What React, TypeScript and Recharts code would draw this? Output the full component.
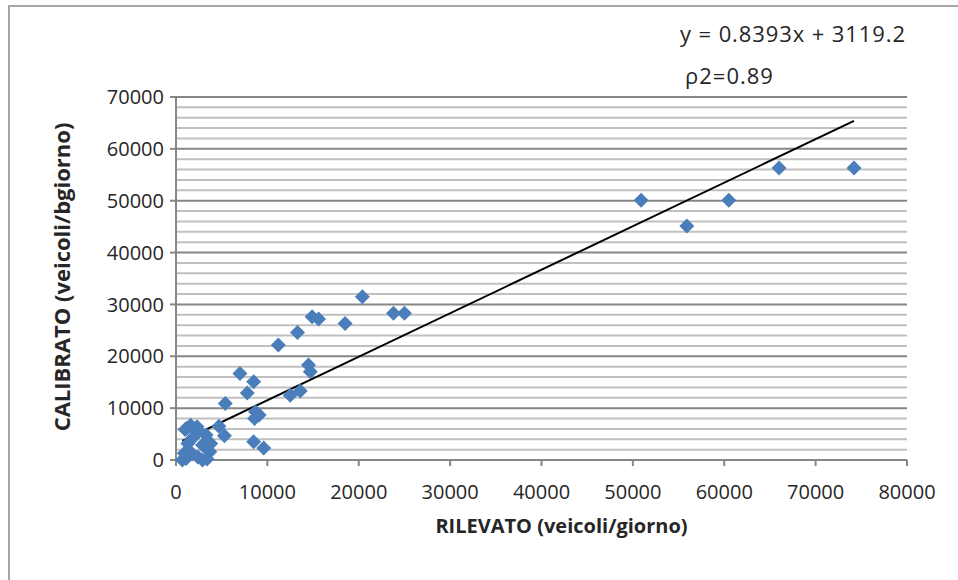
import React from "react";
import {
  ScatterChart,
  Scatter,
  XAxis,
  YAxis,
  CartesianGrid,
  ReferenceLine,
} from "recharts";

// RILEVATO (x) vs CALIBRATO (y), veicoli/giorno
const rilevato = [
  700, 1100, 900, 1500, 1300, 1800, 1000, 1600, 2300, 2500, 3300, 3800, 2900,
  3700, 2400, 2900, 3400, 1200,
  4700, 5300, 5400, 7000, 8500, 7800, 8700, 9100, 8600, 8500, 9600,
  12500, 13600, 14500, 14700, 11200, 13300, 14900, 15600, 18500, 20400, 23800,
  25000, 50900, 55900, 60500, 66000, 74200,
];
const calibrato = [
  0, 300, 1300, 1700, 3200, 4200, 5900, 6700, 6400, 5500, 4800, 3200, 2900,
  1600, 600, 0, 200, 6100,
  6500, 4700, 10900, 16700, 15100, 12900, 9300, 8700, 8000, 3500, 2300,
  12500, 13300, 18300, 17000, 22200, 24600, 27600, 27200, 26300, 31500, 28300,
  28300, 50100, 45100, 50100, 56300, 56300,
];

const xTicks = [0, 10000, 20000, 30000, 40000, 50000, 60000, 70000, 80000];
const yTicks = [0, 10000, 20000, 30000, 40000, 50000, 60000, 70000];
const yMinorTicks = yTicks
  .slice(0, -1)
  .flatMap((t) => [t + 2000, t + 4000, t + 6000, t + 8000]);

// linear fit shown on the chart
const slope = 0.8393;
const intercept = 3119.2;

const points = rilevato.map((x, i) => ({ x, y: calibrato[i] }));
const xMin = Math.min(...rilevato);
const xMax = Math.max(...rilevato);

const FONT = "'Open Sans', sans-serif";
const TEXT = "#262626";

function Diamond(props: any) {
  const { cx, cy } = props;
  if (cx == null || cy == null) return null;
  const r = 7.5;
  return (
    <polygon
      points={`${cx},${cy - r} ${cx + r},${cy} ${cx},${cy + r} ${cx - r},${cy}`}
      fill="#4a7ebb"
    />
  );
}

export default function App() {
  return (
    <div
      style={{
        position: "absolute",
        left: 0,
        top: 0,
        width: 958,
        height: 580,
        background: "#fff",
        overflow: "hidden",
        fontFamily: FONT,
      }}
    >
      <div style={{ position: "absolute", left: 8, top: 5, width: 2, height: 580, background: "#a6a6a6" }} />
      <div style={{ position: "absolute", left: 8, top: 5, width: 950, height: 2, background: "#a6a6a6" }} />
      <ScatterChart
        width={958}
        height={580}
        margin={{ top: 97, right: 51, bottom: 60, left: 116 }}
      >
        <CartesianGrid vertical={false} stroke="#868686" strokeWidth={2} />
        {yMinorTicks.map((v) => (
          <ReferenceLine key={v} y={v} stroke="#c0c0c0" strokeWidth={2} />
        ))}
        <XAxis
          type="number"
          dataKey="x"
          domain={[0, 80000]}
          ticks={xTicks}
          interval={0}
          height={60}
          stroke="#868686"
          strokeWidth={2}
          tickSize={6}
          tickMargin={19}
          tick={{ fill: TEXT, fontSize: 20, fontFamily: FONT }}
          label={{
            value: "RILEVATO (veicoli/giorno)",
            position: "insideBottom",
            offset: -13,
            dx: 20,
            fill: TEXT,
            fontSize: 20,
            fontWeight: "bold",
            fontFamily: FONT,
          }}
        />
        <YAxis
          type="number"
          dataKey="y"
          domain={[0, 70000]}
          ticks={yTicks}
          interval={0}
          width={60}
          stroke="#868686"
          strokeWidth={2}
          tickSize={6}
          tickMargin={6}
          tick={{ fill: TEXT, fontSize: 20, fontFamily: FONT }}
        />
        <ReferenceLine
          segment={[
            { x: xMin, y: slope * xMin + intercept },
            { x: xMax, y: slope * xMax + intercept },
          ]}
          stroke="#000"
          strokeWidth={2}
          ifOverflow="visible"
        />
        <Scatter data={points} shape={Diamond} isAnimationActive={false} />
      </ScatterChart>
      <div
        style={{
          position: "absolute",
          top: 277,
          left: 61,
          transform: "translate(-50%, -50%) rotate(-90deg)",
          whiteSpace: "nowrap",
          fontSize: 22,
          fontWeight: "bold",
          color: TEXT,
        }}
      >
        CALIBRATO (veicoli/bgiorno)
      </div>
      <div style={{ position: "absolute", left: 680, top: 18, fontSize: 22, color: TEXT, whiteSpace: "nowrap", letterSpacing: 0.9 }}>
        y = 0.8393x + 3119.2
      </div>
      <div style={{ position: "absolute", left: 685, top: 60, fontSize: 22, color: TEXT, whiteSpace: "nowrap", letterSpacing: 1 }}>
        ρ2=0.89
      </div>
    </div>
  );
}
